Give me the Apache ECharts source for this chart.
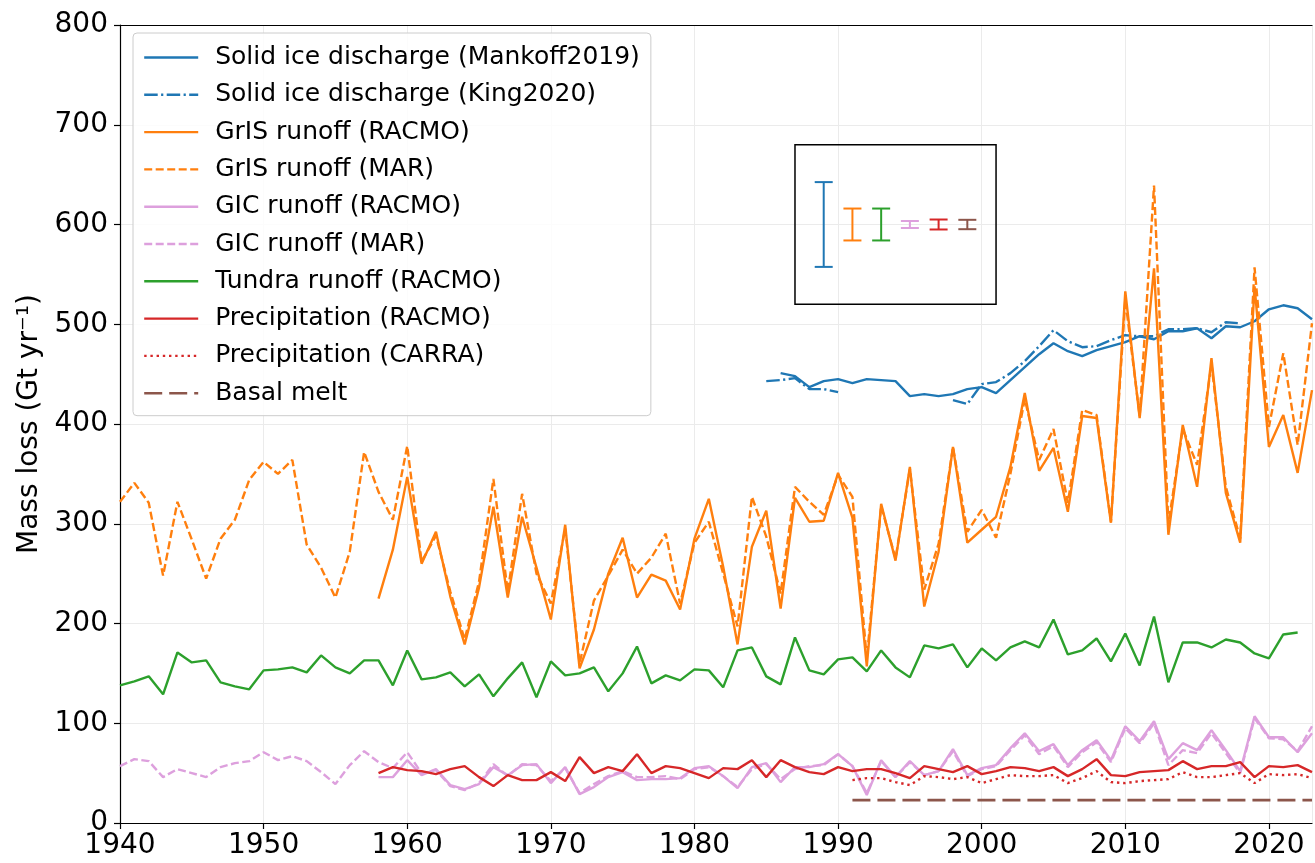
<!DOCTYPE html>
<html>
<head>
<meta charset="utf-8">
<script src="https://cdn.jsdelivr.net/npm/echarts@6/dist/echarts.min.js"></script>
<style>
html,body{margin:0;padding:0;background:#fff;}
#chart{width:1315px;height:863px;}
</style>
</head>
<body>
<div id="chart"></div>
<script>
// ---------- Data ----------
const mankoffStart = 1986;
const mankoff = [451,448,437,443,445,441,445,444,443,428,430,428,430,435,437,431,444,457,470,481,473,468,474,478,482,488,485,493,493,496,486,498,497,503,515,519,516,505];

const king1Start = 1985;
const king1 = [443,444,446,435,435,432];
const king2Start = 1998;
const king2 = [424,420,440,442,451,463,478,494,483,477,478,484,489,488,488,495,495,496,492,502,501];

const grisRacmoStart = 1958;
const grisRacmo = [225,274,347,260,292,227,179,236,317,226,307,256,204,299,155,194,250,286,226,249,243,214,285,325,257,179,277,313,215,326,302,303,351,306,157,320,263,357,217,272,377,281,294,307,357,431,353,376,312,408,406,301,533,406,556,289,399,337,466,331,281,538,377,409,351,434];

const grisMarStart = 1940;
const grisMar = [322,341,321,248,322,284,245,285,304,344,362,350,364,279,256,226,272,372,332,304,378,262,288,232,184,242,345,232,330,250,220,295,160,223,248,274,250,266,290,220,281,302,250,197,327,287,230,337,322,309,349,327,165,318,265,355,234,280,377,292,314,286,350,425,364,395,321,414,409,302,525,408,639,300,395,359,460,337,285,557,397,471,379,501];

const gicRacmoStart = 1958;
const gicRacmo = [46,46,63,48,54,38,34,39,56,48,58,59,40,56,29,36,46,51,43,44,44,45,55,57,47,35,56,60,41,56,56,59,69,57,28,63,46,62,48,52,74,48,55,58,75,90,72,79,58,73,83,63,97,82,102,64,80,73,93,73,52,107,86,86,71,90];

const gicMarStart = 1940;
const gicMar = [57,64,62,46,54,50,46,56,60,62,71,63,67,62,51,39,58,72,61,55,71,50,53,37,33,40,59,47,59,58,42,55,30,39,47,52,46,46,47,44,54,56,47,36,54,59,44,54,57,58,69,57,30,62,46,61,48,52,72,47,54,57,73,88,69,77,56,71,81,61,95,80,100,58,73,70,90,70,50,105,85,84,72,97];

const tundraStart = 1940;
const tundra = [138,142,147,129,171,161,163,141,137,134,153,154,156,151,168,156,150,163,163,138,173,144,146,151,137,149,127,145,161,126,162,148,150,156,132,150,177,140,148,143,154,153,136,173,176,147,139,186,153,149,164,166,152,173,156,146,178,175,179,156,175,163,176,182,176,204,169,173,185,162,190,158,207,141,181,181,176,184,181,170,165,189,191];

const precipRacmoStart = 1958;
const precipRacmo = [50,56,53,52,49,54,57,46,37,48,43,43,51,42,66,50,56,52,69,50,57,55,50,45,55,54,63,46,63,56,51,49,56,52,54,54,50,45,57,54,51,57,49,52,56,55,52,56,47,54,64,48,47,51,52,53,62,54,57,57,61,46,57,56,58,51];

const precipCarraStart = 1991;
const precipCarra = [43,45,45,41,38,47,46,44,46,40,44,48,47,47,48,40,45,52,41,40,42,43,44,51,46,46,48,50,40,49,48,49,45];

const basalYears = [1991, 2023];
const basalValues = [23, 23];

// Inset: uncertainty bars
const errX = [1989, 1991, 1993, 1995, 1997, 1999];
const errCenter = [600, 600, 600, 600, 600, 600];
const errHalf = [42.5, 16, 16, 3.5, 5, 4.7];
const errColors = ['#1f77b4', '#ff7f0e', '#2ca02c', '#dda0dd', '#d62728', '#8c564b'];
const insetBox = [1987, 520, 2001, 680];

const xTicks = {min: 1940, max: 2023, interval: 10};
const yTicks = {min: 0, max: 800, interval: 100};

// ---------- helpers ----------
function pairs(start, vals) { return vals.map((v, i) => [start + i, v]); }

const FONT = 'DejaVu Sans';
const LW = 2.4;
const C = {blue:'#1f77b4', orange:'#ff7f0e', plum:'#dda0dd', green:'#2ca02c', red:'#d62728', brown:'#8c564b'};

function lineSeries(name, data, color, type, width) {
  return {
    name: name, type: 'line', data: data, showSymbol: false, symbol: 'none',
    lineStyle: {color: color, width: width || LW, type: type || 'solid', cap: 'butt'},
    itemStyle: {color: color},
    emphasis: {disabled: true}, animation: false, z: 2
  };
}

const kingData = pairs(king1Start, king1).concat(['-'], pairs(king2Start, king2));

const series = [
  lineSeries('Solid ice discharge (Mankoff2019)', pairs(mankoffStart, mankoff), C.blue, 'solid'),
  Object.assign(lineSeries('Solid ice discharge (King2020)', kingData, C.blue, [13.5, 3.4, 2.2, 3.4]), {connectNulls: false}),
  lineSeries('GrIS runoff (RACMO)', pairs(grisRacmoStart, grisRacmo), C.orange, 'solid'),
  lineSeries('GrIS runoff (MAR)', pairs(grisMarStart, grisMar), C.orange, [8, 3.5]),
  lineSeries('GIC runoff (RACMO)', pairs(gicRacmoStart, gicRacmo), C.plum, 'solid'),
  lineSeries('GIC runoff (MAR)', pairs(gicMarStart, gicMar), C.plum, [8, 3.5]),
  lineSeries('Tundra runoff (RACMO)', pairs(tundraStart, tundra), C.green, 'solid'),
  lineSeries('Precipitation (RACMO)', pairs(precipRacmoStart, precipRacmo), C.red, 'solid'),
  lineSeries('Precipitation (CARRA)', pairs(precipCarraStart, precipCarra), C.red, [2.4, 3.8]),
  lineSeries('Basal melt', basalYears.map((y, i) => [y, basalValues[i]]), C.brown, [18, 7], 2.8),
  {
    name: 'insetBox', type: 'custom', silent: true, animation: false, z: 3,
    data: [insetBox],
    renderItem: function (params, api) {
      const p0 = api.coord([api.value(0), api.value(3)]);
      const p1 = api.coord([api.value(2), api.value(1)]);
      return {type: 'rect', shape: {x: p0[0], y: p0[1], width: p1[0] - p0[0], height: p1[1] - p0[1]},
        style: {fill: 'none', stroke: '#000', lineWidth: 1.5}};
    }
  },
  {
    name: 'errorBars', type: 'custom', silent: true, animation: false, z: 3,
    data: errX.map((x, i) => [x, errCenter[i], errHalf[i]]),
    renderItem: function (params, api) {
      const x = api.value(0), y = api.value(1), e = api.value(2);
      const t = api.coord([x, y + e]), b = api.coord([x, y - e]);
      const hw = 9, col = errColors[params.dataIndex];
      const st = {stroke: col, lineWidth: 2};
      return {type: 'group', children: [
        {type: 'line', shape: {x1: t[0], y1: t[1], x2: b[0], y2: b[1]}, style: st},
        {type: 'line', shape: {x1: t[0] - hw, y1: t[1], x2: t[0] + hw, y2: t[1]}, style: st},
        {type: 'line', shape: {x1: b[0] - hw, y1: b[1], x2: b[0] + hw, y2: b[1]}, style: st}
      ]};
    }
  }
];

const legendNames = series.filter(s => s.type === 'line').map(s => s.name);

const chart = echarts.init(document.getElementById('chart'), null, {renderer: 'canvas'});
chart.setOption({
  animation: false,
  textStyle: {fontFamily: FONT},
  grid: {left: 120, right: 3, top: 25, bottom: 40, containLabel: false},
  legend: {
    data: legendNames, orient: 'vertical', left: 133, top: 33,
    itemWidth: 54, itemHeight: 14, itemGap: 8.3,
    padding: [10, 11, 8, 10],
    backgroundColor: 'rgba(255,255,255,0.85)', borderColor: '#cccccc', borderWidth: 1, borderRadius: 4,
    itemStyle: {opacity: 0, borderWidth: 0},
    lineStyle: {width: 2.4},
    textStyle: {fontFamily: FONT, fontSize: 25, color: '#000', lineHeight: 29, padding: [0, 0, 0, 12]},
    selectedMode: false, z: 10
  },
  xAxis: [{
    type: 'value', min: xTicks.min, max: xTicks.max, interval: xTicks.interval,
    axisLine: {show: true, lineStyle: {color: '#000', width: 1.2}},
    axisTick: {show: true, length: 6, lineStyle: {color: '#000', width: 1.2}},
    axisLabel: {fontFamily: FONT, fontSize: 28, color: '#000', margin: 9, showMaxLabel: false,
      formatter: v => (v % 10 === 0 ? String(v) : '')},
    splitLine: {show: true, lineStyle: {color: '#ebebeb', width: 1}}
  }, {
    type: 'value', position: 'top', min: xTicks.min, max: xTicks.max,
    axisLine: {show: true, onZero: false, lineStyle: {color: '#000', width: 1.2}},
    axisTick: {show: false}, axisLabel: {show: false}, splitLine: {show: false}
  }],
  yAxis: {
    type: 'value', min: yTicks.min, max: yTicks.max, interval: yTicks.interval,
    name: 'Mass loss (Gt yr\u207B\u00B9)', nameLocation: 'middle', nameGap: 74,
    nameTextStyle: {fontFamily: FONT, fontSize: 28, color: '#000'},
    axisLine: {show: true, lineStyle: {color: '#000', width: 1.2}},
    axisTick: {show: true, length: 6, lineStyle: {color: '#000', width: 1.2}},
    axisLabel: {fontFamily: FONT, fontSize: 28, color: '#000', margin: 12},
    splitLine: {show: true, lineStyle: {color: '#ebebeb', width: 1}}
  },
  series: series
});
</script>
</body>
</html>
